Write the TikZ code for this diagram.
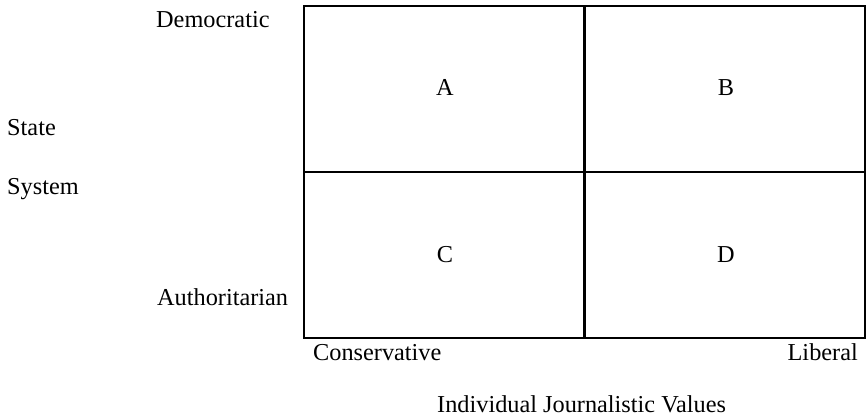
\documentclass[tikz,border=0pt]{standalone}
\usepackage{fontspec}
\setmainfont{Liberation Serif}
\begin{document}
\begin{tikzpicture}[x=1pt,y=-1pt,
  lbl/.style={font=\fontsize{24.3}{29}\selectfont, inner sep=0pt},
  cell/.style={draw=black, line width=2.2pt}]
\useasboundingbox (0,0) rectangle (868,419);
\coordinate (tl) at (304,6);
\coordinate (br) at (865,338);
\coordinate (mt) at (584.5,6);
\coordinate (mb) at (584.5,338);
\coordinate (ml) at (304,172);
\coordinate (mr) at (865,172);
\draw[cell] (tl) rectangle (br);
\draw[cell] (mt) -- (mb);
\draw[cell] (ml) -- (mr);
\node[lbl, anchor=base] (A) at (445,96) {A};
\node[lbl, anchor=base] (B) at (726,96) {B};
\node[lbl, anchor=base] (C) at (445,263) {C};
\node[lbl, anchor=base] (D) at (726,263) {D};
\node[lbl, anchor=base west] (dem) at (156,28) {Democratic};
\node[lbl, anchor=base west] (aut) at (157,306) {Authoritarian};
\node[lbl, anchor=base west] (state) at (7,136) {State};
\node[lbl, anchor=base west] (sys) at (7,195) {System};
\node[lbl, anchor=base west] (cons) at (313,361) {Conservative};
\node[lbl, anchor=base east] (lib) at (858,361) {Liberal};
\node[lbl, anchor=base west] (ijv) at (437,413) {Individual Journalistic Values};
\end{tikzpicture}
\end{document}
